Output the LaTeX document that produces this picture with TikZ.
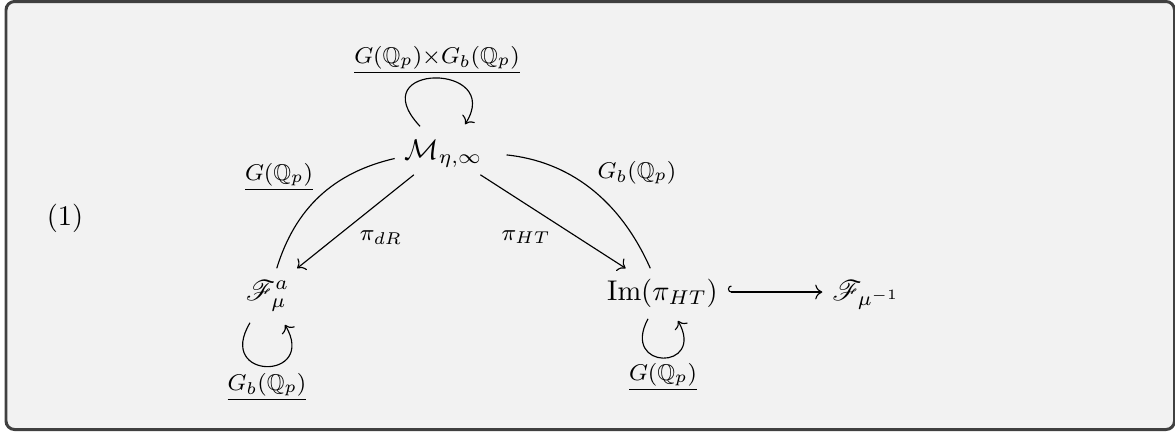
\documentclass[tikz,border=0pt]{standalone}
\usepackage{amsmath}
\usepackage{amssymb}
\usepackage{mathrsfs}
\usepackage{xcolor}
\usetikzlibrary{arrows.meta}
\definecolor{framecol}{HTML}{404040}
\definecolor{backcol}{HTML}{F2F2F2}

\begin{document}
\begin{tikzpicture}[x=0.3509pt, y=-0.3509pt,
  obj/.style={text height=7.6pt, text depth=2pt, inner sep=3.33pt, anchor=base},
  lab/.style={font=\footnotesize, anchor=base, inner sep=0pt}]

\useasboundingbox (0,0) rectangle (1175,431);

% ---------------------------------------------------------------- frame
\draw[line width=1.05pt, draw=framecol, fill=backcol, rounded corners=3pt]
  (6,1.5) rectangle (1174.5,429.5);

% ---------------------------------------------------------------- objects
\node[anchor=base] (eqno) at (65,225) {(1)};
\node[obj] (m)  at (443.5,159) {$\mathcal{M}_{\eta,\infty}$};
\node[obj] (f)  at (267.5,300) {$\mathscr{F}^a_\mu$};
\node[obj] (im) at (662.5,300) {$\mathrm{Im}(\pi_{HT})$};
\node[obj] (fm) at (866,300)   {$\mathscr{F}_{\mu^{-1}}$};

% ---------------------------------------------------------------- maps
\draw[->] (m) -- (f);
\draw[->] (m) -- (im);
\draw (m) to[bend right=30] (f);
\draw[shorten <=5pt] (m) to[bend left=30] (im);
\draw[{Hooks[right]}->] (im) -- (fm);

% group actions
\draw[->] ([shift={(-23.5,-1)}]m.north) .. controls +(-60,-64) and +(40,-62)
  .. ([shift={(21.5,-3)}]m.north);
\draw[->] ([shift={(-17.5,7)}]f.south) .. controls +(-35,58) and +(33,56)
  .. ([shift={(17.5,9)}]f.south);
\draw[->] ([shift={(-14.5,3)}]im.south) .. controls +(-28,52) and +(28,50)
  .. ([shift={(15.5,5)}]im.south);

% ---------------------------------------------------------------- labels
\node[lab] (lmm) at (437,63)  {$\underline{G(\mathbb{Q}_p){\times}G_b(\mathbb{Q}_p)}$};
\node[lab] (lmf) at (279,180) {$\underline{G(\mathbb{Q}_p)}$};
\node[lab] (lmi) at (637,178) {$G_b(\mathbb{Q}_p)$};
\node[lab] (ldr) at (381,240) {$\pi_{dR}$};
\node[lab] (lht) at (526,240) {$\pi_{HT}$};
\node[lab] (lff) at (267,390) {$\underline{G_b(\mathbb{Q}_p)}$};
\node[lab] (lii) at (663,380) {$\underline{G(\mathbb{Q}_p)}$};

\end{tikzpicture}
\end{document}
